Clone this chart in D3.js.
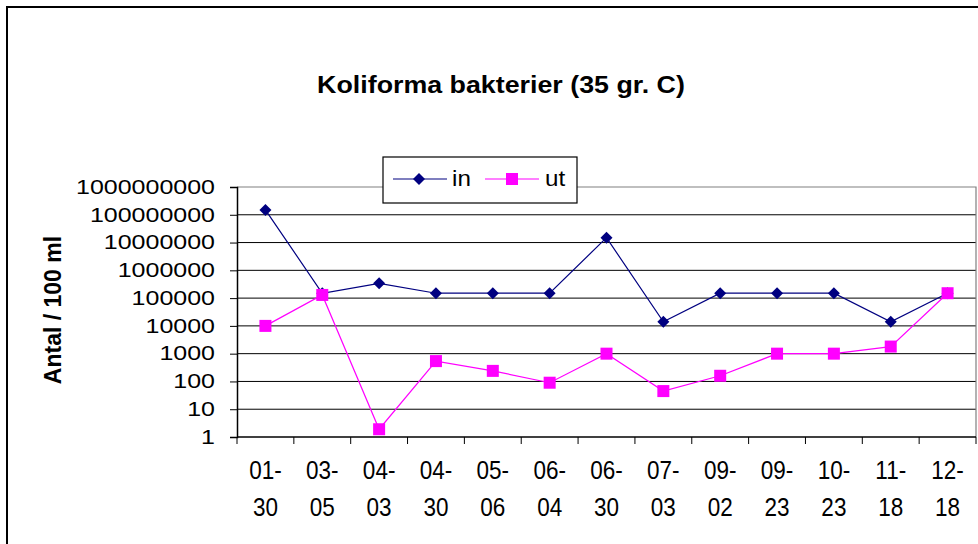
<!DOCTYPE html>
<html>
<head>
<meta charset="utf-8">
<script src="https://cdn.jsdelivr.net/npm/d3@7"></script>
<style>
  body { margin: 0; background: #fff; }
  svg text { font-family: "Liberation Sans", Arial, sans-serif; fill: #000; }
</style>
</head>
<body>
<div id="chart"></div>
<script>
// sampling dates (month-day)
var dates = ["01-30", "03-05", "04-03", "04-30", "05-06", "06-04", "06-30",
             "07-03", "09-02", "09-23", "10-23", "11-18", "12-18"];
// coliform counts per 100 ml
var inVals = [150000000, 150000, 340000, 150000, 150000, 150000, 15000000,
              14000, 150000, 150000, 150000, 14000, 150000];
var utVals = [10000, 130000, 1.9, 540, 240, 90, 1000, 45, 160, 1000, 1000, 1800, 150000];
var yTicks = [1, 10, 100, 1000, 10000, 100000, 1000000, 10000000, 100000000, 1000000000];

var svgWidth = 978;
var svgHeight = 544;

// plot area
var margin = { top: 187, right: 2, bottom: 107, left: 237 };
var width = svgWidth - margin.left - margin.right;
var height = svgHeight - margin.top - margin.bottom;

// the fonts in the picture are a bit wider (or narrower) than Arial
function stretch(k) {
  return function(sel) {
    sel.each(function() {
      var len = this.getComputedTextLength();
      d3.select(this).attr("textLength", len * k).attr("lengthAdjust", "spacingAndGlyphs");
    });
  };
}

var svg = d3.select("#chart")
  .append("svg")
  .attr("width", svgWidth)
  .attr("height", svgHeight);

// outer chart frame (runs off the right and bottom)
svg.append("rect")
  .attr("x", 7).attr("y", 7)
  .attr("width", 1000).attr("height", 600)
  .attr("fill", "#fff")
  .attr("stroke", "#000")
  .attr("stroke-width", 2);

// title
svg.append("text")
  .attr("x", 501).attr("y", 93)
  .attr("text-anchor", "middle")
  .attr("font-size", "23.5px")
  .attr("font-weight", "bold")
  .text("Koliforma bakterier (35 gr. C)")
  .call(stretch(1.14));

var chart = svg.append("g")
  .attr("transform", `translate(${margin.left}, ${margin.top})`);

var xScale = d3.scaleBand()
  .domain(dates)
  .range([0, width]);

var yScale = d3.scaleLog()
  .domain([1, 1000000000])
  .range([height, 0]);

// gridlines
chart.append("g")
  .selectAll("line")
  .data(yTicks.slice(1, -1))
  .enter()
  .append("line")
  .attr("x1", 0).attr("x2", width)
  .attr("y1", d => yScale(d)).attr("y2", d => yScale(d))
  .attr("stroke", "#000")
  .attr("stroke-width", 1);

// plot border, top and right (gray)
chart.append("path")
  .attr("d", `M0,${yScale(1e9)}H${width}V${height}`)
  .attr("fill", "none")
  .attr("stroke", "#808080")
  .attr("stroke-width", 1.2);

// y axis
var leftAxis = d3.axisLeft(yScale)
  .tickValues(yTicks)
  .tickFormat(d3.format("d"))
  .tickSize(7)
  .tickPadding(15);

var yAxis = chart.append("g").call(leftAxis);
yAxis.select(".domain").attr("stroke", "#000").attr("stroke-width", 1.5);
yAxis.selectAll(".tick line").attr("stroke", "#000");
yAxis.selectAll(".tick text")
  .attr("font-size", "21px")
  .attr("font-family", null)
  .attr("dy", "0.30em")
  .call(stretch(1.19));

// x axis: ticks sit between the categories
var boundaries = d3.range(dates.length + 1).map(i => i * xScale.step());
var xAxis = chart.append("g")
  .attr("transform", `translate(0, ${height})`);
xAxis.append("line")
  .attr("x1", 0).attr("x2", width)
  .attr("stroke", "#000").attr("stroke-width", 1.5);
xAxis.selectAll(".xtick")
  .data(boundaries)
  .enter()
  .append("line")
  .attr("class", "xtick")
  .attr("x1", d => d).attr("x2", d => d)
  .attr("y1", 0).attr("y2", 7)
  .attr("stroke", "#000");

var xLabels = xAxis.selectAll(".xlabel")
  .data(dates)
  .enter()
  .append("g")
  .attr("class", "xlabel")
  .attr("transform", d => `translate(${xScale(d) + xScale.bandwidth() / 2}, 0)`);
xLabels.append("text")
  .attr("y", 42)
  .attr("text-anchor", "middle")
  .attr("font-size", "25px")
  .text(d => d.split("-")[0] + "-")
  .call(stretch(0.9));
xLabels.append("text")
  .attr("y", 79)
  .attr("text-anchor", "middle")
  .attr("font-size", "25px")
  .text(d => d.split("-")[1])
  .call(stretch(0.9));

// y axis title
svg.append("text")
  .attr("transform", "translate(61, 310) rotate(-90)")
  .attr("text-anchor", "middle")
  .attr("font-size", "23px")
  .attr("font-weight", "bold")
  .text("Antal / 100 ml");

// series
var cx = d => xScale(d.date) + xScale.bandwidth() / 2;
var inData = dates.map((d, i) => ({ date: d, value: inVals[i] }));
var utData = dates.map((d, i) => ({ date: d, value: utVals[i] }));

var line = d3.line()
  .x(cx)
  .y(d => yScale(d.value));

chart.append("path")
  .datum(inData)
  .attr("d", line)
  .attr("fill", "none")
  .attr("stroke", "#000080")
  .attr("stroke-width", 1.2);

chart.append("path")
  .datum(utData)
  .attr("d", line)
  .attr("fill", "none")
  .attr("stroke", "#ff00ff")
  .attr("stroke-width", 1.2);

var diamond = "M0,-6L6,0L0,6L-6,0Z";

chart.selectAll(".in-marker")
  .data(inData)
  .enter()
  .append("path")
  .attr("class", "in-marker")
  .attr("d", diamond)
  .attr("transform", d => `translate(${cx(d)}, ${yScale(d.value)})`)
  .attr("fill", "#000080");

chart.selectAll(".ut-marker")
  .data(utData)
  .enter()
  .append("rect")
  .attr("class", "ut-marker")
  .attr("x", d => cx(d) - 6)
  .attr("y", d => yScale(d.value) - 6)
  .attr("width", 12).attr("height", 12)
  .attr("fill", "#ff00ff");

// legend
var legend = svg.append("g").attr("transform", "translate(383, 157)");
legend.append("rect")
  .attr("width", 194).attr("height", 46)
  .attr("fill", "#fff")
  .attr("stroke", "#000")
  .attr("stroke-width", 1.2);

legend.append("line")
  .attr("x1", 10).attr("x2", 64).attr("y1", 22).attr("y2", 22)
  .attr("stroke", "#000080").attr("stroke-width", 1.2);
legend.append("path")
  .attr("d", diamond)
  .attr("transform", "translate(36, 22)")
  .attr("fill", "#000080");
legend.append("text")
  .attr("x", 69).attr("y", 29)
  .attr("font-size", "22px")
  .text("in")
  .call(stretch(1.1));

legend.append("line")
  .attr("x1", 102).attr("x2", 156).attr("y1", 22).attr("y2", 22)
  .attr("stroke", "#ff00ff").attr("stroke-width", 1.2);
legend.append("rect")
  .attr("x", 123).attr("y", 16)
  .attr("width", 12).attr("height", 12)
  .attr("fill", "#ff00ff");
legend.append("text")
  .attr("x", 162).attr("y", 29)
  .attr("font-size", "22px")
  .text("ut")
  .call(stretch(1.1));
</script>
</body>
</html>
